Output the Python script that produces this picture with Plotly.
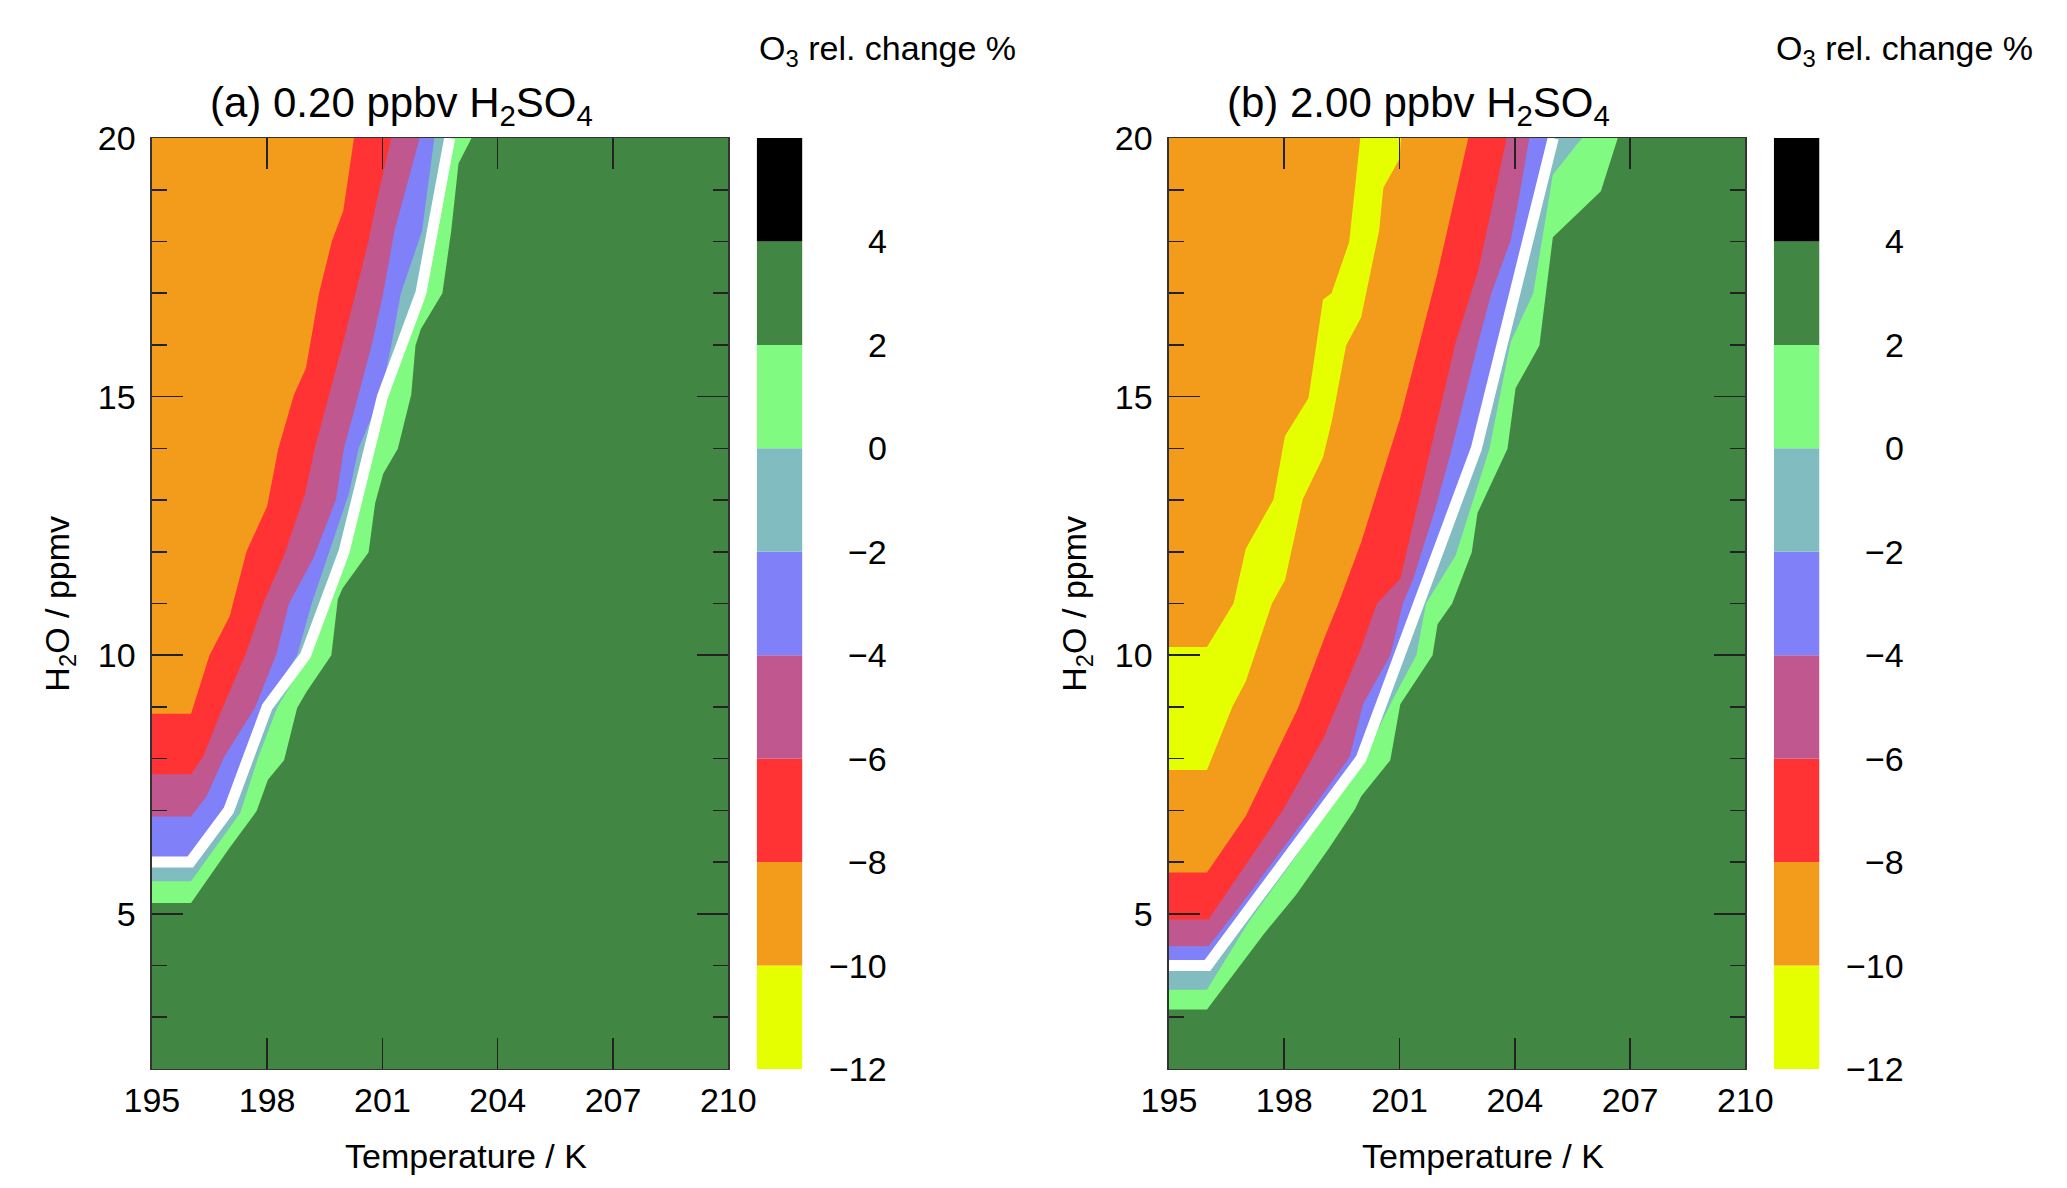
import numpy as np
import plotly.graph_objects as go

# ---------------- data ----------------
T_RANGE = [195, 210]          # Temperature / K
H_RANGE = [2, 20]             # H2O / ppmv
X_TICK0, X_DTICK = 195, 3
Y_TICK0, Y_DTICK = 5, 5

CB_LEVELS = [-12, -10, -8, -6, -4, -2, 0, 2, 4, 6]
CB_COLORS = ["#E6FF00", "#F39C1B", "#FF3333", "#C0578F", "#8080F8",
             "#80BCC0", "#80FA80", "#428644", "#000000"]
CB_TICKS = [-12, -10, -8, -6, -4, -2, 0, 2, 4]
CB_TICK_LABELS = ["\u221212", "\u221210", "\u22128", "\u22126", "\u22124",
                  "\u22122", "0", "2", "4"]

# Panel (a): 0.20 ppbv H2SO4 -- contour boundaries (T, H2O) from left edge to top edge
A_T_P2 = [195.00, 196.02, 197.01, 197.73, 198.02, 198.44, 198.78, 199.03, 199.67, 199.84, 199.96,
          200.64, 200.81, 201.02, 201.40, 201.75, 201.86, 202.00, 202.56, 202.79, 202.98, 203.32]
A_H_P2 = [5.21, 5.21, 6.26, 6.99, 7.59, 7.97, 8.98, 9.30, 10.00, 11.08, 11.29,
          11.99, 12.94, 13.51, 13.99, 15.04, 15.99, 16.31, 17.00, 18.21, 19.51, 20.00]
A_T_0 = [195.00, 196.02, 197.30, 197.77, 198.27, 199.08, 199.62, 200.10, 200.40, 200.72, 201.10,
         201.55, 202.10, 202.30, 202.75]
A_H_0 = [5.63, 5.63, 6.95, 8.03, 9.00, 10.00, 11.00, 12.00, 13.13, 14.00, 15.04,
         16.00, 17.00, 18.20, 20.00]
A_T_M2 = [195.00, 196.00, 196.97, 197.42, 197.92, 198.78, 199.16, 199.62, 200.13, 200.38, 200.97,
          201.23, 201.48, 202.03, 202.35]
A_H_M2 = [6.10, 6.10, 6.95, 8.03, 9.00, 10.00, 11.00, 12.00, 13.13, 14.00, 15.04,
          16.00, 17.00, 18.20, 20.00]
A_T_M4 = [195.00, 196.02, 196.42, 196.88, 197.68, 198.23, 198.57, 199.20, 199.79, 200.00, 200.38,
          200.72, 201.02, 201.31, 201.97]
A_H_M4 = [6.88, 6.88, 7.27, 8.03, 8.98, 10.00, 11.00, 11.87, 13.01, 14.00, 15.04,
          16.00, 17.00, 18.20, 20.00]
A_T_M6 = [195.00, 196.02, 196.33, 196.84, 197.43, 197.90, 198.44, 198.99, 199.24, 199.62, 199.96,
          200.30, 200.64, 200.87, 201.23]
A_H_M6 = [7.70, 7.70, 8.03, 8.98, 10.00, 11.00, 11.93, 13.13, 14.00, 15.04, 16.00,
          17.00, 18.02, 18.85, 20.00]
A_T_M8 = [195.00, 196.02, 196.50, 197.03, 197.11, 197.47, 198.00, 198.29, 198.70, 199.01, 199.35,
          199.69, 199.98, 200.26]
A_H_M8 = [8.87, 8.87, 10.00, 10.76, 11.00, 12.02, 12.88, 13.99, 15.04, 15.55, 17.00,
          18.02, 18.59, 20.00]
A_T_WHITE = [195, 196, 197, 198, 199, 200, 201, 202, 202.75]
A_H_WHITE = [6, 6, 7, 9, 10, 12, 15, 17, 20]

# Panel (b): 2.00 ppbv H2SO4
B_T_P2 = [195.00, 195.99, 197.47, 198.31, 199.16, 199.84, 200.00, 200.76, 201.02, 201.86, 201.99,
          202.37, 202.88, 203.03, 203.81, 204.02, 204.64, 204.82, 204.99, 206.24, 206.68]
B_H_P2 = [3.15, 3.15, 4.61, 5.37, 6.26, 7.02, 7.27, 7.97, 9.05, 10.00, 10.60,
          11.00, 11.99, 12.75, 13.99, 15.16, 15.99, 17.07, 18.08, 18.97, 20.00]
B_T_0 = [195.00, 195.99, 197.09, 198.14, 199.16, 200.09, 200.85, 201.44, 201.69, 202.46, 203.34,
         203.89, 204.48, 204.99, 205.75]
B_H_0 = [3.53, 3.53, 4.86, 5.94, 7.02, 8.03, 9.18, 10.00, 11.00, 11.93, 13.99,
         16.05, 17.00, 19.29, 20.00]
B_T_M2 = [195.00, 195.95, 196.96, 198.08, 198.97, 200.00, 200.93, 201.42, 201.93, 202.90, 203.93,
          204.66, 204.92]
B_H_M2 = [4.10, 4.10, 4.99, 6.13, 7.02, 8.10, 10.00, 11.00, 11.99, 13.99, 17.00,
          19.20, 20.00]
B_T_M4 = [195.00, 196.03, 196.80, 197.77, 198.72, 199.70, 200.05, 200.76, 201.09, 201.36, 201.95,
          202.37, 203.05, 203.39, 203.89, 204.06, 204.38]
B_H_M4 = [4.37, 4.37, 5.10, 6.07, 7.02, 8.03, 9.05, 10.00, 11.00, 11.48, 12.88,
          14.02, 16.05, 17.00, 18.02, 18.65, 20.00]
B_T_M6 = [195.00, 196.03, 197.98, 199.03, 200.00, 200.41, 201.02, 201.99, 202.46, 203.05, 203.79]
B_H_M6 = [4.89, 4.89, 7.02, 8.41, 10.13, 11.00, 11.48, 14.59, 16.05, 17.45, 20.00]
B_T_M8 = [195.00, 195.99, 197.00, 198.36, 199.07, 199.41, 200.00, 201.02, 201.99, 202.79]
B_H_M8 = [5.80, 5.80, 6.89, 8.98, 10.38, 11.00, 12.18, 14.59, 17.39, 20.00]
B_T_YL = [195.00, 195.99, 196.68, 197.00, 197.72, 198.02, 198.63, 198.91, 199.01, 199.23, 199.69, 199.98]
B_H_YL = [10.16, 10.16, 11.00, 12.06, 13.01, 14.24, 14.97, 16.31, 16.88, 17.00, 17.99, 20.00]
B_T_YR = [195.00, 195.99, 196.66, 197.00, 197.68, 198.02, 198.48, 199.01, 199.24, 199.61, 200.00,
          200.47, 200.58, 201.00, 201.04]
B_H_YR = [7.78, 7.78, 9.02, 9.49, 11.00, 11.45, 13.01, 13.83, 14.53, 15.99, 16.53,
          18.21, 19.04, 19.60, 20.00]
B_T_WHITE = [195, 196, 197, 198, 199, 200, 201, 202, 203, 204, 205]
B_H_WHITE = [4, 4, 5, 6, 7, 8, 10, 12, 14, 17, 20]

TITLES = ["(a) 0.20 ppbv H<sub>2</sub>SO<sub>4</sub>", "(b) 2.00 ppbv H<sub>2</sub>SO<sub>4</sub>"]
X_TITLE = "Temperature / K"
Y_TITLE = "H<sub>2</sub>O / ppmv"
CB_TITLE = "O<sub>3</sub> rel. change %"

# ---------------- layout geometry (pixels) ----------------
W, H = 2067, 1188
FONT = "Liberation Sans, Arial, Helvetica, sans-serif"
PLOT_L, PLOT_R = 127.3, 719.8
PLOT_T, PLOT_B = 121.0, 1067.0
CB_L, CB_R = 749.0, 796.0
CB_LABEL_X = 885.0
DX = 1045.4


def px(x):
    return x / W


def py(y):
    return 1 - y / H


def band_color(level):
    """colour of the band just below a contour level"""
    return CB_COLORS[CB_LEVELS.index(level) - 1]


fig = go.Figure()


def fill(xs, ys, color, xa, ya):
    fig.add_trace(go.Scatter(x=xs, y=ys, fill="toself", fillcolor=color, mode="lines",
                             line=dict(width=0, color=color), hoverinfo="skip",
                             showlegend=False, xaxis=xa, yaxis=ya))


def left_region(ts, hs):
    # region on the cold/wet side of a boundary, closed via the top-left corner
    return list(ts) + [T_RANGE[0]], list(hs) + [H_RANGE[1]]


panels = [
    dict(bounds=[(2, A_T_P2, A_H_P2), (0, A_T_0, A_H_0), (-2, A_T_M2, A_H_M2),
                 (-4, A_T_M4, A_H_M4), (-6, A_T_M6, A_H_M6), (-8, A_T_M8, A_H_M8)],
         band=None, white=(A_T_WHITE, A_H_WHITE)),
    dict(bounds=[(2, B_T_P2, B_H_P2), (0, B_T_0, B_H_0), (-2, B_T_M2, B_H_M2),
                 (-4, B_T_M4, B_H_M4), (-6, B_T_M6, B_H_M6), (-8, B_T_M8, B_H_M8)],
         band=(-10, B_T_YL, B_H_YL, B_T_YR, B_H_YR), white=(B_T_WHITE, B_H_WHITE)),
]

axis_font = dict(family=FONT, size=34, color="black")

for i, p in enumerate(panels):
    xa, ya = ("x", "y") if i == 0 else ("x2", "y2")
    cxa, cya = ("x3", "y3") if i == 0 else ("x4", "y4")
    wxa, wya = ("x5", "y5") if i == 0 else ("x6", "y6")

    # whole domain lies below the 4 % level -> dark green
    fill([T_RANGE[0], T_RANGE[1], T_RANGE[1], T_RANGE[0]],
         [H_RANGE[0], H_RANGE[0], H_RANGE[1], H_RANGE[1]], band_color(4), xa, ya)
    for level, ts, hs in p["bounds"]:
        xs, ys = left_region(ts, hs)
        fill(xs, ys, band_color(level), xa, ya)
    if p["band"] is not None:
        level, tl, hl, tr, hr = p["band"]
        fill(list(tl) + list(tr)[::-1], list(hl) + list(hr)[::-1], band_color(level), xa, ya)

    # white line on its own (later drawn) subplot so it sits above the tick marks
    wt, wh = p["white"]
    fig.add_trace(go.Scatter(x=wt, y=wh, mode="lines", line=dict(color="white", width=11),
                             hoverinfo="skip", showlegend=False, xaxis=wxa, yaxis=wya))

    # colour bar drawn as stacked bars on its own small axis
    fig.add_trace(go.Bar(x=[0] * (len(CB_LEVELS) - 1), y=list(np.diff(CB_LEVELS)),
                         base=CB_LEVELS[:-1], width=1,
                         marker=dict(color=CB_COLORS, line=dict(width=0)),
                         hoverinfo="skip", showlegend=False, xaxis=cxa, yaxis=cya))

    off = i * DX
    xdom = [px(PLOT_L + off), px(PLOT_R + off)]
    ydom = [py(PLOT_B), py(PLOT_T)]
    common = dict(ticks="inside", ticklen=31, tickwidth=1.5, tickcolor="#222",
                  showline=True, linecolor="#333", linewidth=1.5, mirror="ticks",
                  showgrid=False, zeroline=False, tickfont=axis_font)
    fig.update_layout(**{
        ("xaxis" if i == 0 else "xaxis2"): dict(
            domain=xdom, range=T_RANGE, tickmode="linear", tick0=X_TICK0, dtick=X_DTICK,
            anchor=ya, ticklabelstandoff=1, **common),
        ("yaxis" if i == 0 else "yaxis2"): dict(
            domain=ydom, range=H_RANGE, tickmode="linear", tick0=Y_TICK0, dtick=Y_DTICK,
            anchor=xa, ticklabelstandoff=8,
            minor=dict(tick0=0, dtick=1, ticks="inside", ticklen=15, tickwidth=1.5,
                       tickcolor="#222", showgrid=False), **common),
        ("xaxis3" if i == 0 else "xaxis4"): dict(
            domain=[px(CB_L + off), px(CB_R + off)], range=[-0.5, 0.5], visible=False,
            anchor=cya, fixedrange=True),
        ("yaxis3" if i == 0 else "yaxis4"): dict(
            domain=ydom, range=[CB_LEVELS[0], CB_LEVELS[-1]], visible=False,
            anchor=cxa, fixedrange=True),
        ("xaxis5" if i == 0 else "xaxis6"): dict(
            domain=xdom, range=T_RANGE, visible=False, anchor=wya, fixedrange=True),
        ("yaxis5" if i == 0 else "yaxis6"): dict(
            domain=ydom, range=H_RANGE, visible=False, anchor=wxa, fixedrange=True),
    })

    ann = []
    for v, lab in zip(CB_TICKS, CB_TICK_LABELS):
        ann.append(dict(text=lab, x=px(CB_LABEL_X + off), xref="paper", xanchor="right",
                        y=v, yref=cya, yanchor="middle", showarrow=False, font=axis_font))
    ann.append(dict(text=CB_TITLE, x=px(CB_L + off), xref="paper", xanchor="left",
                    y=py(32), yref="paper", yanchor="middle", showarrow=False, font=axis_font))
    ann.append(dict(text=TITLES[i], x=px(384 + off), xref="paper", xanchor="center",
                    y=py(88), yref="paper", yanchor="middle", showarrow=False,
                    font=dict(family=FONT, size=42, color="black")))
    ann.append(dict(text=X_TITLE, x=px(450 + off), xref="paper", xanchor="center",
                    y=py(1155), yref="paper", yanchor="middle", showarrow=False, font=axis_font))
    ann.append(dict(text=Y_TITLE, x=px(32 + off), xref="paper", xanchor="center",
                    y=py(594), yref="paper", yanchor="middle", showarrow=False,
                    textangle=-90, font=axis_font))
    for a in ann:
        fig.add_annotation(**a)

fig.update_layout(width=W, height=H, autosize=False,
                  margin=dict(l=0, r=0, t=0, b=0, pad=0),
                  paper_bgcolor="white", plot_bgcolor="rgba(0,0,0,0)",
                  barmode="overlay", showlegend=False, hovermode=False,
                  font=dict(family=FONT, color="black"))

fig.write_html("out.html", config={"displayModeBar": False, "staticPlot": True},
               post_script="document.body.style.margin='0px';")
